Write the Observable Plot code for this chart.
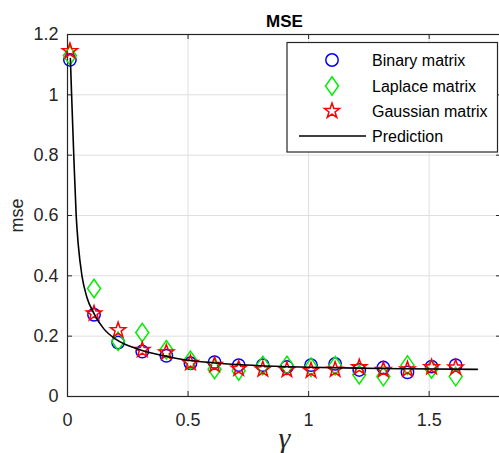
<!DOCTYPE html>
<html>
<head>
<meta charset="utf-8">
<script src="https://cdn.jsdelivr.net/npm/d3@7"></script>
<script src="https://cdn.jsdelivr.net/npm/@observablehq/plot@0.6"></script>
<style>
  html, body { margin: 0; padding: 0; background: white; }
  svg { display: block; }
</style>
</head>
<body>
<div id="chart"></div>
<script>
// ---- data ----
const gammaValues = [0.01, 0.11, 0.21, 0.31, 0.41, 0.51, 0.61, 0.71, 0.81, 0.91, 1.01, 1.11, 1.21, 1.31, 1.41, 1.51, 1.61];
const binaryMse   = [1.116, 0.271, 0.179, 0.149, 0.135, 0.110, 0.114, 0.104, 0.104, 0.098, 0.104, 0.108, 0.088, 0.096, 0.080, 0.099, 0.104];
const laplaceMse  = [1.130, 0.358, 0.183, 0.212, 0.155, 0.120, 0.090, 0.085, 0.103, 0.103, 0.097, 0.102, 0.072, 0.066, 0.104, 0.091, 0.066];
const gaussianMse = [1.145, 0.275, 0.220, 0.154, 0.146, 0.111, 0.105, 0.092, 0.090, 0.088, 0.086, 0.089, 0.097, 0.088, 0.090, 0.097, 0.096];
const predGamma   = [0.012, 0.017, 0.026, 0.036, 0.045, 0.060, 0.080, 0.110, 0.150, 0.200, 0.300, 0.400, 0.500, 0.600, 0.700, 0.800, 1.000, 1.200, 1.400, 1.700];
const predMse     = [1.12, 1.00, 0.80, 0.60, 0.50, 0.40, 0.33, 0.275, 0.225, 0.190, 0.155, 0.135, 0.120, 0.112, 0.106, 0.102, 0.097, 0.094, 0.092, 0.090];
const xTicks = [0, 0.5, 1, 1.5];
const yTicks = [0, 0.2, 0.4, 0.6, 0.8, 1, 1.2];
const seriesNames = ["Binary matrix", "Laplace matrix", "Gaussian matrix", "Prediction"];

// ---- tables built from arrays ----
const points = gammaValues.map((g, i) => ({g, binary: binaryMse[i], laplace: laplaceMse[i], gaussian: gaussianMse[i]}));
const pred = predGamma.map((g, i) => ({g, v: predMse[i]}));

// custom MATLAB-like symbols
const diamondSym = {draw(ctx, size) {
  const r = Math.sqrt(size / Math.PI);
  const w = r, h = r * 1.42;
  ctx.moveTo(0, -h); ctx.lineTo(w, 0); ctx.lineTo(0, h); ctx.lineTo(-w, 0); ctx.closePath();
}};
const starSym = {draw(ctx, size) {
  const R = Math.sqrt(size / Math.PI), ri = R * 0.40;
  for (let i = 0; i < 10; i++) {
    const a = -Math.PI / 2 + i * Math.PI / 5;
    const rr = i % 2 ? ri : R;
    const px = rr * Math.cos(a), py = rr * Math.sin(a);
    if (i === 0) ctx.moveTo(px, py); else ctx.lineTo(px, py);
  }
  ctx.closePath();
}};

const ink = "#262626";
const W = 499, H = 453, mL = 67, mR = -2, mT = 34, mB = 57;
const frameW = W - mL - mR, frameH = H - mT - mB;

const svg = Plot.plot({
  width: W, height: H,
  marginLeft: mL, marginRight: mR, marginTop: mT, marginBottom: mB,
  style: {fontFamily: "'Liberation Sans', Arial, sans-serif", fontSize: "18px", color: ink, background: "white"},
  x: {domain: [0, 1.8]},
  y: {domain: [0, 1.2]},
  marks: [
    Plot.gridX(xTicks, {stroke: "#dfdfdf", strokeOpacity: 1}),
    Plot.gridY(yTicks, {stroke: "#dfdfdf", strokeOpacity: 1}),
    Plot.frame({stroke: ink, strokeWidth: 1.2}),
    Plot.tickX(xTicks, {x: d => d, insetTop: frameH - 5, stroke: ink}),
    Plot.tickX(xTicks, {x: d => d, insetBottom: frameH - 5, stroke: ink}),
    Plot.tickY(yTicks, {y: d => d, insetRight: frameW - 5, stroke: ink}),
    Plot.tickY(yTicks, {y: d => d, insetLeft: frameW - 5, stroke: ink}),
    Plot.axisX(xTicks, {tickSize: 0, tickPadding: 17, tickFormat: d => String(d), label: null, fontSize: 18}),
    Plot.axisY(yTicks, {tickSize: 0, tickPadding: 9, tickFormat: d => String(d), label: null, fontSize: 18}),
    Plot.dot(points, {x: "g", y: "binary", r: 6.2, symbol: "circle", stroke: "#0000ff", strokeWidth: 1.5, fill: "none"}),
    Plot.dot(points, {x: "g", y: "laplace", r: 6.5, symbol: diamondSym, stroke: "#00ee00", strokeWidth: 1.5, fill: "none"}),
    Plot.dot(points, {x: "g", y: "gaussian", r: 8, symbol: starSym, stroke: "#ff0000", strokeWidth: 1.5, fill: "none"}),
    Plot.line(pred, {x: "g", y: "v", stroke: "black", strokeWidth: 1.6, curve: "monotone-x"}),
    Plot.text(["MSE"], {text: d => d, frameAnchor: "top", lineAnchor: "middle", dy: -13, fontWeight: "bold", fontSize: 17, fill: "black"}),
    Plot.text(["mse"], {text: d => d, frameAnchor: "left", textAnchor: "middle", lineAnchor: "middle", dx: -50, rotate: -90, fontSize: 18, fill: ink}),
    Plot.text(["γ"], {text: d => d, frameAnchor: "bottom", lineAnchor: "middle", dy: 42, fontSize: 30, fontStyle: "italic", fontFamily: "'Liberation Serif', 'DejaVu Serif', serif", fill: ink})
  ]
});

// ---- legend (inside axes, north-east) ----
const lg = d3.select(svg).append("g").attr("font-family", "'Liberation Sans', Arial, sans-serif").attr("font-size", 16).attr("fill", "black").attr("text-anchor", "start");
lg.append("rect").attr("x", 287).attr("y", 42.5).attr("width", 210.5).attr("height", 109.5)
  .attr("fill", "white").attr("stroke", ink).attr("stroke-width", 1.2);
const rowsY = [60, 86, 111, 136];
const legendSyms = [
  {type: d3.symbolCircle, r: 6.2, color: "#0000ff"},
  {type: diamondSym, r: 6.5, color: "#00ee00"},
  {type: starSym, r: 8, color: "#ff0000"}
];
legendSyms.forEach((s, i) => {
  lg.append("path")
    .attr("d", d3.symbol().type(s.type).size(Math.PI * s.r * s.r)())
    .attr("transform", `translate(332,${rowsY[i]})`)
    .attr("fill", "none").attr("stroke", s.color).attr("stroke-width", 1.5);
});
lg.append("line").attr("x1", 299).attr("x2", 366).attr("y1", rowsY[3]).attr("y2", rowsY[3])
  .attr("stroke", "black").attr("stroke-width", 1.6);
seriesNames.forEach((name, i) => {
  lg.append("text").attr("x", 372).attr("y", rowsY[i]).attr("dy", "0.35em").text(name);
});

document.getElementById("chart").appendChild(svg);
</script>
</body>
</html>
